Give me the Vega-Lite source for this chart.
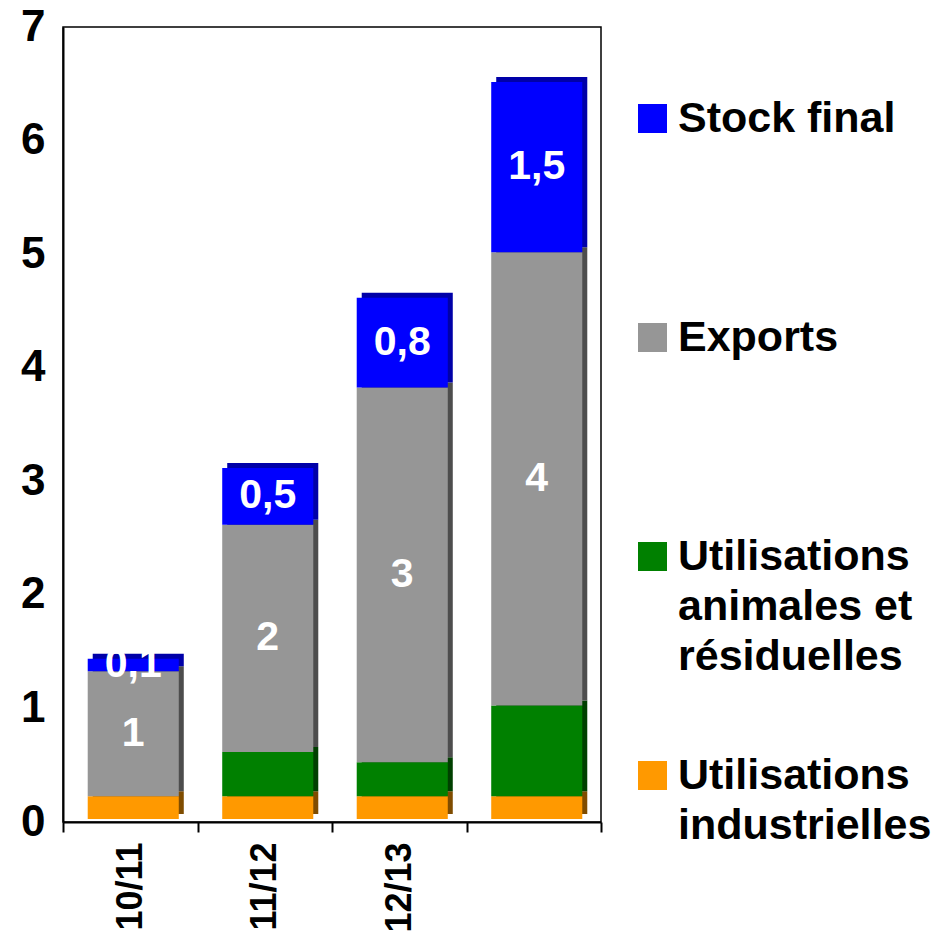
{
  "$schema": "https://vega.github.io/schema/vega-lite/v6.json",
  "width": 538,
  "height": 795,
  "autosize": {"type": "none"},
  "padding": {"left": 63, "top": 27, "right": 344, "bottom": 116},
  "background": "white",
  "config": {
    "view": {"stroke": "black", "strokeWidth": 1.5},
    "font": "Liberation Sans",
    "style": {"guide-label": {"lineHeight": 50}}
  },
  "data": {
    "values": [
      {"campagne": "10/11", "series": "Utilisations industrielles", "value": 0.2, "label": ""},
      {"campagne": "10/11", "series": "Utilisations animales et résiduelles", "value": 0.0, "label": ""},
      {"campagne": "10/11", "series": "Exports", "value": 1.1, "label": "1"},
      {"campagne": "10/11", "series": "Stock final", "value": 0.11, "label": "0,1"},
      {"campagne": "11/12", "series": "Utilisations industrielles", "value": 0.2, "label": ""},
      {"campagne": "11/12", "series": "Utilisations animales et résiduelles", "value": 0.39, "label": ""},
      {"campagne": "11/12", "series": "Exports", "value": 2.0, "label": "2"},
      {"campagne": "11/12", "series": "Stock final", "value": 0.5, "label": "0,5"},
      {"campagne": "12/13", "series": "Utilisations industrielles", "value": 0.2, "label": ""},
      {"campagne": "12/13", "series": "Utilisations animales et résiduelles", "value": 0.3, "label": ""},
      {"campagne": "12/13", "series": "Exports", "value": 3.3, "label": "3"},
      {"campagne": "12/13", "series": "Stock final", "value": 0.79, "label": "0,8"},
      {"campagne": " ", "series": "Utilisations industrielles", "value": 0.2, "label": ""},
      {"campagne": " ", "series": "Utilisations animales et résiduelles", "value": 0.8, "label": ""},
      {"campagne": " ", "series": "Exports", "value": 3.99, "label": "4"},
      {"campagne": " ", "series": "Stock final", "value": 1.5, "label": "1,5"}
    ]
  },
  "transform": [
    {"calculate": "indexof(['Utilisations industrielles','Utilisations animales et résiduelles','Exports','Stock final'], datum.series)", "as": "stackOrder"}
  ],
  "encoding": {
    "x": {
      "field": "campagne",
      "type": "nominal",
      "sort": null,
      "scale": {"paddingInner": 0, "paddingOuter": 0},
      "axis": {
        "title": null,
        "tickBand": "extent",
        "tickSize": 10,
        "tickColor": "black",
        "tickWidth": 2,
        "labelAngle": -90,
        "labelFontSize": 36,
        "labelFontWeight": "bold",
        "labelColor": "black",
        "labelPadding": 10,
        "domainColor": "black",
        "domainWidth": 2
      }
    },
    "y": {
      "field": "value",
      "type": "quantitative",
      "stack": "zero",
      "title": null,
      "scale": {"domain": [0, 7], "nice": false},
      "axis": {
        "values": [0, 1, 2, 3, 4, 5, 6, 7],
        "title": null,
        "grid": false,
        "ticks": false,
        "labelFontSize": 44,
        "labelFontWeight": "bold",
        "labelColor": "black",
        "labelPadding": 18,
        "domainColor": "black",
        "domainWidth": 2
      }
    },
    "order": {"field": "stackOrder", "type": "quantitative"}
  },
  "layer": [
    {
      "mark": {"type": "bar", "width": {"band": 0.677}, "xOffset": 8, "yOffset": -8},
      "encoding": {
        "color": {
          "field": "series",
          "type": "nominal",
          "scale": {
            "domain": ["Stock final", "Exports", "Utilisations animales et résiduelles", "Utilisations industrielles"],
            "range": ["#0000a8", "#4d4d4d", "#004000", "#7f4c00"]
          },
          "legend": null
        }
      }
    },
    {
      "mark": {"type": "bar", "width": {"band": 0.677}, "xOffset": 3, "yOffset": -3},
      "encoding": {
        "color": {
          "field": "series",
          "type": "nominal",
          "scale": {
            "domain": ["Stock final", "Exports", "Utilisations animales et résiduelles", "Utilisations industrielles"],
            "range": ["#0000ff", "#969696", "#008000", "#ff9900"]
          },
          "legend": {
            "orient": "none",
            "legendX": 568,
            "legendY": 70,
            "title": null,
            "padding": 0,
            "symbolType": "square",
            "symbolSize": 841,
            "symbolStrokeWidth": 0,
            "labelFontSize": 43,
            "labelFontWeight": "bold",
            "labelColor": "black",
            "labelOffset": 4,
            "labelLimit": 400,
            "rowPadding": 75,
            "labelExpr": "datum.label == 'Utilisations animales et résiduelles' ? ['Utilisations', 'animales et', 'résiduelles'] : datum.label == 'Utilisations industrielles' ? ['Utilisations', 'industrielles', ''] : [datum.label, '', '']"
          }
        }
      }
    },
    {
      "mark": {"type": "text", "color": "white", "fontWeight": "bold", "fontSize": 41, "baseline": "middle", "xOffset": 3, "yOffset": -3},
      "encoding": {
        "y": {"field": "value", "type": "quantitative", "stack": "zero", "bandPosition": 0.5, "title": null},
        "detail": {"field": "series"},
        "text": {"field": "label"}
      }
    }
  ],
  "resolve": {"scale": {"color": "independent"}}
}
